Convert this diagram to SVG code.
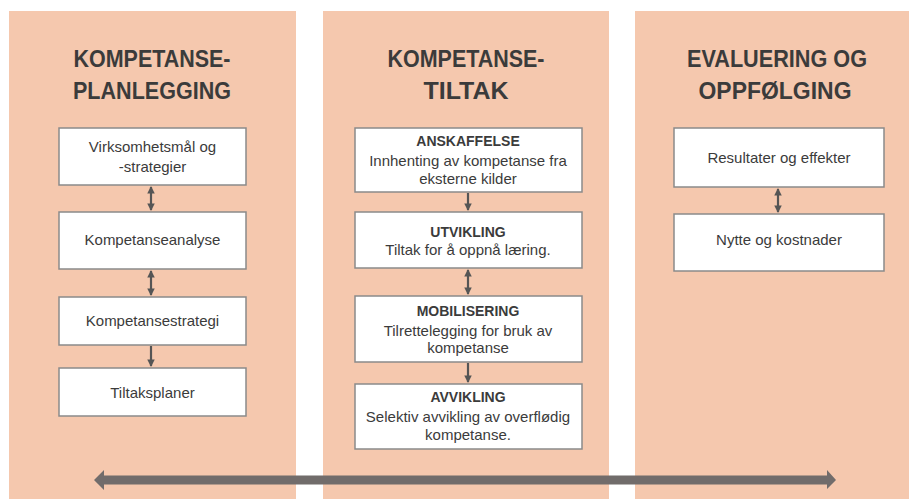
<svg xmlns="http://www.w3.org/2000/svg" width="909" height="499" viewBox="0 0 909 499">
  <defs>
    <style>
      .panel { fill: #f5c8ae; }
      .box { fill: #ffffff; stroke: #8a8a8a; stroke-width: 1.5; }
      .title { font-family: "Liberation Sans", Arial, sans-serif; font-weight: bold; font-size: 24px; fill: #3b3b3b; text-anchor: middle; }
      .txt { font-family: "Liberation Sans", Arial, sans-serif; font-size: 15px; fill: #3b3b3b; text-anchor: middle; }
      .hd { font-family: "Liberation Sans", Arial, sans-serif; font-size: 14px; font-weight: bold; fill: #3b3b3b; text-anchor: middle; }
      .link { stroke: #555555; stroke-width: 2.2; fill: none; }
    </style>
    <marker id="tip" viewBox="0 0 8 8" refX="7" refY="4" markerWidth="3.4" markerHeight="3.4" orient="auto-start-reverse" markerUnits="strokeWidth">
      <path d="M0,0 L8,4 L0,8 Z" fill="#555555"/>
    </marker>
  </defs>

  <!-- column backgrounds -->
  <rect class="panel" x="9" y="11" width="287" height="488"/>
  <rect class="panel" x="323" y="11" width="286" height="488"/>
  <rect class="panel" x="635" y="11" width="274" height="488"/>

  <!-- column headings -->
  <g id="heading-planlegging">
    <text class="title" x="152" y="67" textLength="157" lengthAdjust="spacingAndGlyphs">KOMPETANSE-</text>
    <text class="title" x="152" y="99" textLength="158" lengthAdjust="spacingAndGlyphs">PLANLEGGING</text>
  </g>
  <g id="heading-tiltak">
    <text class="title" x="466" y="67" textLength="157" lengthAdjust="spacingAndGlyphs">KOMPETANSE-</text>
    <text class="title" x="466" y="99" textLength="85" lengthAdjust="spacingAndGlyphs">TILTAK</text>
  </g>
  <g id="heading-evaluering">
    <text class="title" x="777" y="67" textLength="180" lengthAdjust="spacingAndGlyphs">EVALUERING OG</text>
    <text class="title" x="775" y="99" textLength="153" lengthAdjust="spacingAndGlyphs">OPPFØLGING</text>
  </g>

  <!-- planning column -->
  <g id="virksomhetsmal">
    <rect class="box" x="59" y="128" width="187" height="57"/>
    <text class="txt" x="152.5" y="152">Virksomhetsmål og</text>
    <text class="txt" x="152.5" y="172">-strategier</text>
  </g>
  <g id="kompetanseanalyse">
    <rect class="box" x="59" y="212" width="187" height="57"/>
    <text class="txt" x="152.5" y="245">Kompetanseanalyse</text>
  </g>
  <g id="kompetansestrategi">
    <rect class="box" x="59" y="297" width="187" height="48"/>
    <text class="txt" x="152.5" y="326">Kompetansestrategi</text>
  </g>
  <g id="tiltaksplaner">
    <rect class="box" x="59" y="368" width="187" height="48"/>
    <text class="txt" x="152.5" y="398">Tiltaksplaner</text>
  </g>

  <!-- measures column -->
  <g id="anskaffelse">
    <rect class="box" x="355" y="128" width="227" height="64"/>
    <text class="hd" x="468" y="146">ANSKAFFELSE</text>
    <text class="txt" x="468" y="166">Innhenting av kompetanse fra</text>
    <text class="txt" x="468" y="184">eksterne kilder</text>
  </g>
  <g id="utvikling">
    <rect class="box" x="355" y="212" width="227" height="56"/>
    <text class="hd" x="468" y="237">UTVIKLING</text>
    <text class="txt" x="468" y="255">Tiltak for å oppnå læring.</text>
  </g>
  <g id="mobilisering">
    <rect class="box" x="355" y="296" width="227" height="66"/>
    <text class="hd" x="468" y="316">MOBILISERING</text>
    <text class="txt" x="468" y="336">Tilrettelegging for bruk av</text>
    <text class="txt" x="468" y="353">kompetanse</text>
  </g>
  <g id="avvikling">
    <rect class="box" x="355" y="384" width="227" height="65"/>
    <text class="hd" x="468" y="402">AVVIKLING</text>
    <text class="txt" x="468" y="422">Selektiv avvikling av overflødig</text>
    <text class="txt" x="468" y="440">kompetanse.</text>
  </g>

  <!-- evaluation column -->
  <g id="resultater">
    <rect class="box" x="674" y="128" width="210" height="59"/>
    <text class="txt" x="779" y="163">Resultater og effekter</text>
  </g>
  <g id="nytte">
    <rect class="box" x="674" y="214" width="210" height="57"/>
    <text class="txt" x="779" y="245">Nytte og kostnader</text>
  </g>

  <!-- connectors -->
  <g id="connectors">
    <line class="link" x1="151" y1="187" x2="151" y2="210" marker-start="url(#tip)" marker-end="url(#tip)"/>
    <line class="link" x1="151" y1="271" x2="151" y2="295" marker-start="url(#tip)" marker-end="url(#tip)"/>
    <line class="link" x1="151" y1="346" x2="151" y2="366" marker-end="url(#tip)"/>

    <line class="link" x1="468" y1="193" x2="468" y2="210" marker-end="url(#tip)"/>
    <line class="link" x1="468" y1="270" x2="468" y2="294" marker-start="url(#tip)" marker-end="url(#tip)"/>
    <line class="link" x1="468" y1="363" x2="468" y2="382" marker-end="url(#tip)"/>

    <line class="link" x1="778" y1="189" x2="778" y2="212" marker-start="url(#tip)" marker-end="url(#tip)"/>

    <!-- timeline spanning all three phases -->
    <path d="M94,480 L104,470 L104,475.5 L827,475.5 L827,470 L836,480 L827,489 L827,484.5 L104,484.5 L104,490 Z" fill="#716c6b"/>
  </g>
</svg>
